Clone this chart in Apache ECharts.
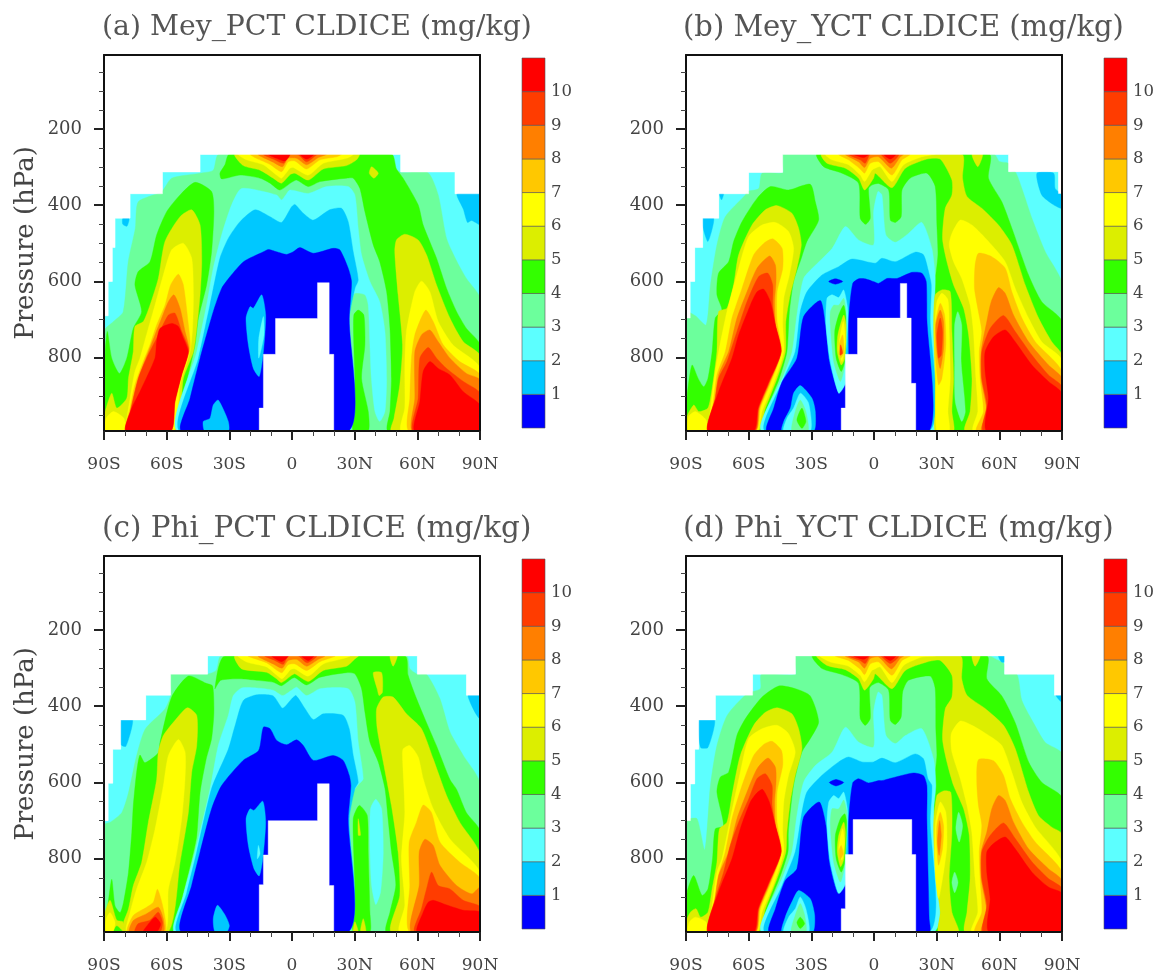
<!DOCTYPE html>
<html><head><meta charset="utf-8">
<style>html,body{margin:0;padding:0;background:#fff}#c{width:1162px;height:975px}#c canvas{filter:blur(0.5px)}</style>
<script src="https://cdn.jsdelivr.net/npm/echarts@6/dist/echarts.min.js"></script>
</head><body><div id="c"></div>
<script>
// tick labels and titles
const titles = ['(a) Mey_PCT CLDICE (mg/kg)','(b) Mey_YCT CLDICE (mg/kg)','(c) Phi_PCT CLDICE (mg/kg)','(d) Phi_YCT CLDICE (mg/kg)'];
const titleSizes = [28.3,29,29.4,29.4];
const majorP = [200,400,600,800];
const minorP = [50,100,150,250,300,350,450,500,550,650,700,750,850,900,950];
const barLabels = [1,2,3,4,5,6,7,8,9,10];
const bandColors = ['#0000ff','#00c8ff','#5cffff','#6cff9c','#33ff00','#dcee00','#ffff00','#ffc800','#ff7f00','#ff3c00','#ff0000','#ffffff'];
// Contour regions: [band, [lat,hPa, lat,hPa, ...]]. Band 11 is the no-data (below ground) area.
const stairsA = [-90,992,-90,690,-88,690,-88,600,-86,600,-86,511,-84.7,511,-84.7,434,-77.5,434,-77.5,370,-62,370,-62,313,-44,313,-44,267,52,267,52,313,78,313,78,370,90,370,90,992];
const panelA = [
[1,[79,370,90,370,90,450,86,440,84,445,82,410]],
[1,[-81,434,-78,434,-79,455,-81,450]],
[3,[-90,992,-90,730,-85.5,705,-80.8,679,-78.4,548,-75,460,-73.6,391,-62.4,364,-57.6,329,-44,316,-37.7,308,-35,266,47.6,266,49.5,303,52.4,314,65,314,70,373,74,487,79,548,83.5,592,90,644,90,992]],
[4,[-46.4,340,-38.5,364,-37.4,417,-38.5,522,-40.9,609,-44.8,696,-46.4,766,-50.1,854,-53.6,924,-55.2,992,-90,992,-89.4,784,-88.4,731,-86.3,801,-82.6,841,-79.1,801,-76,723,-72,679,-75.2,609,-73.6,574,-68,548,-64.8,478,-60,417,-53.6,373]],
[4,[-30,266,-32.1,294,-34.5,316,-33.7,331,-24.9,321,-15.3,329,-10.5,342,-5.8,360,-0.2,340,2.2,334,7.8,351,13.4,338,26.1,329,29.3,329,32.5,356,34.9,417,38.9,504,42,548,45.3,627,46.9,723,47.6,854,46.9,941,46,992,90,992,90,766,83.5,723,78.8,679,74,618,69.2,539,62.8,452,60.4,399,53.2,329,50,305,47.6,266]],
[5,[-27.3,266,-23.3,296,-15.3,308,-9,329,-5,342,-0.7,319,1.4,316,7.8,334,15,305,26.1,296,30.9,281,32.2,266]],
[6,[-25.7,266,-21.7,281,-13.7,294,-7.4,321,-5,329,-1,303,0.6,301,7.8,321,15,290,26.1,277,29.3,266]],
[7,[-20,266,-17,277,-10.5,293,-5,312,-1.8,286,1.4,284,7,305,13.4,281,21.3,273,23.7,266]],
[8,[-16.2,266,-9,287,-4.5,299,-1.8,277,2.2,277,7,294,12.6,275,16.5,266]],
[9,[-13.7,266,-9,279,-4,290,-1.8,268,3,268,7,286,11.8,268,14,266]],
[10,[-11.4,266,-7.4,277,-3.4,284,-1,266]],
[10,[3.8,266,7,279,10.5,266]],
[5,[38.1,299,41.3,316,39.2,329,37,316]],
[5,[-48,412,-44,452,-43.2,548,-44,635,-45.6,723,-47.2,784,-52,854,-56,992,-90,992,-90,954,-86.3,893,-83.9,932,-79.1,906,-78.3,854,-76,784,-75.2,718,-71.2,705,-68,662,-64,592,-60.8,495,-53.6,430]],
[6,[-52,500,-48,539,-47.2,635,-47.6,723,-48.8,784,-53.6,871,-56.8,992,-79.9,992,-79.1,959,-77.5,906,-75.2,836,-72.8,801,-68.8,723,-65.6,662,-61.6,583,-57.6,517]],
[6,[-89,959,-85.5,941,-80.4,959,-80.4,992,-89.5,992]],
[7,[-54.4,581,-52,609,-49.6,714,-48.8,775,-53.6,854,-56.5,924,-58.1,992,-79.5,992,-77.5,932,-75.2,871,-71.2,810,-68,766,-64.8,714,-60.8,662,-58.1,609]],
[8,[-56.5,635,-53.6,670,-51.2,731,-49.4,777,-53.6,850,-56.5,920,-58.1,992,-79.5,992,-77.5,941,-74.4,871,-71.2,819,-65.6,740,-62.4,696,-59.2,653]],
[9,[-56,683,-52.8,731,-49.4,780,-53,847,-56.2,917,-58.1,992,-79.5,992,-77.5,945,-73.6,854,-69.6,801,-64.8,749,-59.2,688]],
[10,[-57.6,710,-54.4,718,-52,749,-49.7,784,-52.8,845,-56,915,-58.1,992,-79.5,992,-76.7,932,-72.8,889,-65.6,801,-64.8,758,-63.2,723]],
[5,[54,476,60.4,491,64.4,530,69.2,609,75.6,696,82,758,90,794,90,992,47.6,992,48.8,959,51.6,871,52.9,766,50.8,635,49.2,522,50,491]],
[6,[62,599,66,627,70,705,77,766,90,826,90,992,52.4,992,54,932,54,819,54.8,731,58.8,627]],
[7,[64,675,67.6,705,72.4,766,80.3,810,90,845,90,992,56,992,56.4,906,57.2,801,58.8,740]],
[8,[66,727,70,758,75.6,801,83.5,841,90,858,90,992,57.7,992,58.8,906,58.8,784,62,740]],
[9,[65.2,773,69.2,801,74,828,82,862,90,893,90,992,58,992,60.4,906,61.2,801]],
[10,[66,810,70,828,75.6,845,82,889,90,924,90,992,58.8,992,61.2,915,62.8,836]],
[2,[-54.8,992,-45.6,784,-40.9,662,-37.7,565,-33.7,478,-28.9,399,-24.1,356,-7.4,373,-5,386,-3,373,-1,360,7.8,369,16.5,351,26.9,351,30.1,373,31.7,460,33.3,530,37.3,600,42,653,44.5,731,45.3,854,44.5,941,42,967,39.7,941,38,854,37.3,766,36.5,662,34.9,635,30.1,631,28.5,653,27.4,696,27.4,992]],
[4,[31.7,675,34.4,688,34.9,766,33.3,854,36.5,941,36.5,992,29.3,992,29.3,932,30.1,854,29.6,766,29.6,688]],
[1,[-53.6,992,-44.8,801,-39.3,662,-34.5,539,-30.5,487,-24.9,443,-17.7,412,-10.5,430,-5,445,-0.2,404,1.4,398,5.4,421,10.2,439,18,412,23.7,408,26.9,443,29.3,522,31.7,596,30.1,618,27.4,696,27,992]],
[0,[-52.8,992,-48.8,906,-44,801,-37.7,679,-33.7,618,-29.6,587,-23.2,548,-13.7,522,-11.3,516,-7.4,522,-2.6,529,0.6,522,3.8,511,10.2,526,19.7,513,22.9,517,26.9,565,28.5,600,27.4,696,27,992]],
[1,[-14.5,635,-12.6,688,-13.7,784,-15.7,849,-18.5,828,-20.9,766,-22,696,-20.1,666,-18.5,670]],
[2,[-13.7,692,-13.4,740,-15.9,801,-15.9,750]],
[1,[-35.3,911,-30.5,967,-30.5,992,-41.7,992,-42.5,967,-39.3,959,-37.7,924]],
[11,[-15.7,992,-15.7,932,-13.7,932,-13.7,791,-7.9,791,-7.9,697,12.2,697,12.2,603,17.8,603,17.8,791,20,791,20,992]]
];
const stairsB = [-90,992,-90,696,-88,696,-88,600,-85.8,600,-85.8,511,-82,511,-82,434,-74.3,434,-74.3,370,-60,370,-60,314,-43.7,314,-43.7,267,64.4,267,64.4,312,88.3,312,88.3,369,90,369,90,992];
const panelB = [
[1,[78,316,86,316,86.7,356,90,373,90,408,86,399,80.3,373]],
[1,[-82,434,-76.7,434,-79.5,495,-82,456]],
[1,[-74,370,-72,370,-73,386]],
[3,[-90,992,-90,680,-85.5,690,-80.4,714,-78.3,609,-75.2,504,-71.2,430,-61.6,373,-60.8,364,-55.2,356,-53.6,316,-43.7,314,-43.7,266,57.5,266,60,285,64.4,290,64.4,312,67.6,312,70.8,356,75.6,434,82,522,90,605,90,992]],
[4,[-49.6,351,-40.9,360,-30.5,345,-28.1,391,-26.5,439,-32.1,495,-34.8,539,-38.5,600,-40.5,679,-41.7,784,-45.3,854,-51.2,932,-54.9,992,-90,992,-89.4,898,-87.1,819,-84.2,854,-81.5,876,-79.5,854,-77.5,784,-76,696,-72.8,675,-75.2,635,-74.4,578,-69.6,548,-67.2,495,-63.2,443,-56,382]],
[4,[-27.3,266,-24.1,299,-15.3,316,-7.4,342,-6.6,434,-4,450,-1.8,434,-2.6,356,-1,347,2.2,343,7,360,7.8,439,10.2,445,13,430,13.4,360,17.3,329,25.3,316,29.3,351,30.1,452,30.6,530,29.3,592,27.4,627,29,679,29.3,941,29.3,992,90,992,90,705,80.3,653,74,583,66,460,61.2,391,54.8,329,55.1,266]],
[3,[40.1,679,42,714,41.7,810,43.7,941,42,967,38.9,915,38.6,810,38.6,714]],
[5,[-25.2,266,-22.5,290,-13.7,303,-7.4,329,-4.5,360,-0.2,329,0.6,316,8.6,354,15,303,25.3,279,31.7,279,37.3,334,37.3,373,34.1,408,32.8,487,34.9,548,38.1,609,42.9,670,45.3,740,46.9,854,46,941,43.7,992,90,992,90,793,85.1,758,78.8,696,72.4,609,66,504,59.6,452,51.6,408,44.5,377,42.4,329,42,266]],
[5,[46.9,266,52,266,49.7,299]],
[6,[-23.3,266,-20.1,281,-12.2,294,-6.6,321,-4.5,338,-1,308,0.6,303,3,299,8.6,338,14.2,294,22.9,273,29.3,266]],
[7,[-17,266,-12.2,281,-6.6,305,-4.5,316,-1.8,290,2.2,286,8.6,321,13.4,281,17.3,266]],
[8,[-13.7,266,-7.4,286,-4.5,301,-1.8,277,2.2,273,8.3,303,12.6,273,14.2,266]],
[9,[-12.2,266,-6.6,281,-4.2,290,-1.8,266,3,266,7.8,290,11.8,266]],
[10,[-9.8,266,-5,275,-2.6,266]],
[10,[4.6,266,7.8,279,10.5,266]],
[5,[-46.4,401,-39.3,421,-36.1,460,-34.8,504,-36.9,565,-40.1,635,-42.2,705,-42.4,784,-46.4,854,-52,932,-55.5,992,-90,992,-90,960,-86.3,924,-83.9,941,-79.5,932,-77.5,880,-75.2,784,-74.4,679,-70.4,670,-67.2,609,-64.8,530,-58.4,452,-52,412]],
[6,[-47.2,445,-40.9,469,-38.5,513,-40.5,583,-43.2,644,-43.7,714,-43.2,784,-48,867,-53.6,941,-56,992,-79.1,992,-78.8,959,-76,836,-74.4,784,-70.4,679,-64.8,565,-60,482,-53.6,452]],
[6,[-88.7,954,-85.5,941,-80.4,963,-80,992,-88.7,992]],
[7,[-48.5,488,-44,513,-43.7,565,-46.4,627,-46.4,705,-44.3,784,-49.6,867,-54.4,932,-56.5,992,-79.1,992,-77.5,941,-75.2,845,-71.2,784,-68,696,-63.2,618,-57.6,530,-52.8,500]],
[8,[-50,533,-47.2,557,-46.9,600,-47.6,653,-47.2,714,-44.5,784,-50.1,867,-54.9,932,-56.8,992,-79.5,992,-76.7,932,-74.4,845,-69.6,784,-65.6,696,-60.8,627,-56,565]],
[9,[-50.8,578,-48.5,609,-48.5,662,-47.2,714,-44.5,784,-50.4,867,-55.2,932,-57.1,992,-79.5,992,-76,906,-74.4,854,-70.4,810,-65.6,731,-60.8,653,-55.2,587]],
[10,[-52.8,620,-49.6,653,-47.2,714,-44.5,784,-50.7,867,-55.5,932,-57.6,992,-79.5,992,-74.4,889,-68,801,-64.8,740,-59.2,662,-56,627]],
[6,[41.3,439,46.9,452,54.8,495,62.8,548,67.6,618,74,696,80.3,758,90,806,90,992,47.6,992,49.7,941,48.8,854,47.6,731,46,662,42,592,38.1,548,36,504,37.3,474]],
[7,[50,526,56.4,535,62.8,565,66,627,70.8,696,77.2,758,90,836,90,992,49.2,992,52.4,941,50.8,854,50.4,784,51.6,731,50,679,48.1,618,48.4,557]],
[8,[59.6,616,62.8,631,66.8,688,74,758,83.5,819,90,854,90,992,51.6,992,54,941,51.3,854,51.3,784,54,705,56.1,653]],
[9,[62,689,67.6,731,75.6,793,83.5,845,90,876,90,992,52.4,992,54,924,51.6,854,51.6,784,55.6,723]],
[10,[62.8,727,67.6,758,75.6,819,83.5,862,90,893,90,992,54,992,54.8,906,53.2,836,53.2,784,57.2,745]],
[2,[-53.6,992,-43.2,845,-39.2,784,-36.9,688,-33.7,592,-28,557,-20,513,-13.7,456,-7.4,491,-0.2,504,-0.2,417,1.9,364,3.8,373,5.7,478,10.2,497,16.5,474,22.9,445,27.7,513,29.3,592,28.8,679,28.8,992]],
[1,[-52,992,-43.2,854,-37.7,784,-35.3,679,-32.1,627,-24.9,583,-16.9,561,-10.5,541,0.6,552,3.8,539,10.2,548,19.7,523,23.7,530,26.1,574,27.4,609,26.9,696,26.4,992]],
[0,[-51.2,992,-48,932,-44,863,-36.9,801,-33.7,692,-25.7,650,-23.3,714,-21.4,810,-16.9,893,-13.7,871,-13.7,992]],
[0,[-12.1,791,-12.1,696,-10.2,605,-7.4,593,-4.2,593,0.6,602,2.2,605,6.2,592,11,592,18.1,576,22.9,578,25,600,25.3,696,26.4,992,-12.1,992]],
[0,[-21.7,600,-18.5,593,-15,600,-18.5,607]],
[1,[-35.3,873,-29.7,906,-28.1,941,-28.9,992,-44,992,-43.2,967,-40,932,-38.5,893]],
[2,[-35.3,893,-31.3,919,-30.5,992,-43.2,992,-41.7,959,-38.5,932]],
[3,[-35.3,911,-32.6,941,-31.6,992,-39.3,992,-37.7,941]],
[4,[-34.5,932,-32.6,967,-34.5,985,-36.9,963]],
[2,[-14.5,622,-12.5,679,-13.7,810,-14,871,-16.9,893,-20.9,810,-23,714,-22.5,644,-20.1,635,-16.9,642]],
[3,[-14.5,644,-13.4,679,-14,819,-16.1,862,-19.3,810,-20.9,714,-20.9,679,-19.3,662,-16.9,662]],
[4,[-14.5,662,-13.4,696,-14,810,-15.7,836,-18.1,801,-18.8,731,-16.9,688]],
[5,[-14.5,688,-13.4,714,-14,801,-15.7,819,-17.6,784,-17.3,740]],
[6,[-14.7,705,-13.7,758,-15.3,810,-16.9,775]],
[7,[-15,740,-14.4,784,-16,801,-16.6,766]],
[9,[-16,766,-15,788,-16.3,793]],
[5,[32.5,622,36.5,627,37.3,731,38.1,854,37.3,941,38.1,992,29.3,992,29.3,941,29.3,854,28.5,714,29.3,635]],
[6,[32.5,631,35.4,648,36,731,36.5,854,35.4,941,36,992,30.1,992,29.6,854,29,731,30.1,653]],
[7,[31.7,657,33.8,688,34.4,766,32.5,854,30.9,871,29.6,810,29.3,714]],
[8,[31.7,675,33.3,705,33.3,775,31.7,828,30.3,793,29.6,714]],
[9,[31.7,696,32.8,731,32.2,793,30.9,801,30.1,740]],
[11,[-15.7,992,-15.7,932,-13.7,932,-13.7,791,-7.9,791,-7.9,696,12.6,696,12.6,605,15.7,605,15.7,696,17.8,696,17.8,867,20,867,20,992]]
];
const stairsC = [-90,992,-90,700,-88,700,-88,602,-85.8,602,-85.8,513,-82,513,-82,436,-70,436,-70,371,-58.1,371,-58.1,316,-40.4,316,-40.4,268,60,268,60,316,83.5,316,83.5,371,90,371,90,992];
const panelC = [
[1,[-82,436,-76.3,436,-79.5,505,-82,500]],
[1,[84.3,371,90,371,90,433,87.5,415]],
[3,[-90,992,-90,710,-87,704,-81.5,679,-78.3,627,-74.4,530,-70.3,460,-60.8,407,-58.1,371,-58.1,316,-41,316,-36.3,306,-33.9,268,54.8,268,56.4,301,60,316,64.4,316,70.8,380,75.6,467,82,529,90,602,90,992]],
[4,[-49.6,321,-41,340,-38,347,-37.4,417,-38.5,485,-41.1,539,-44,626,-45.6,740,-47.2,784,-52.8,906,-57.6,992,-90,992,-89.4,967,-88.4,932,-86.3,854,-84.7,924,-82.3,941,-80.7,915,-78.3,836,-76.7,731,-76,662,-74.4,574,-72.8,528,-70.4,548,-64,522,-63.2,495,-57.6,376]],
[4,[-32.1,268,-36.9,354,-34.1,332,-24.9,328,-16.9,332,-8.9,337,-5,346,-0.2,328,1.4,325,7,344,13.4,324,26.1,312,30.1,315,33.3,354,34.9,415,37.3,494,41.3,546,44.5,616,46,695,47.6,781,49.7,869,46.9,940,45.3,992,90,992,90,727,83.5,679,78.8,618,75.6,592,69.2,504,64.4,443,59.6,380,55.6,319,54,268]],
[5,[-27.3,268,-24.1,302,-12.2,311,-7.4,328,-5,338,-0.2,319,1.4,315,7.8,335,15,306,26.1,295,30.1,276,31.7,268]],
[6,[-25.7,268,-21.7,284,-12.2,297,-7.4,318,-4.7,328,-0.7,304,1.4,302,7.8,321,15,289,24.5,275,27.7,268]],
[7,[-20.9,268,-12.2,286,-5,312,-1.8,291,1.4,289,7,306,13.4,283,20.5,268]],
[8,[-16.2,268,-9,289,-4.7,300,-1.8,280,2.2,277,7,295,12.6,277,15.7,268]],
[9,[-13,268,-8.2,280,-4.2,290,-1.8,268,3,268,7.3,286,11.8,268]],
[10,[-9.7,268,-5,283,-1.8,268]],
[10,[4.6,268,7.8,280,10.5,268]],
[5,[38.9,312,42.9,312,43.3,363,41.7,372,40.8,355]],
[5,[46.9,268,50.4,268,48.4,295]],
[5,[-50.1,404,-45.6,424,-45.6,503,-48,573,-49.6,678,-53.6,810,-59.2,992,-81.5,992,-80.7,967,-78.3,932,-76,871,-72,810,-68.8,705,-64.8,592,-64,520,-61.6,477,-56,437]],
[5,[-90,992,-90,950,-87.1,909,-83.9,961,-81,965,-81,992]],
[4,[-85.5,992,-83.9,976,-81,992]],
[6,[-89,959,-87.1,941,-84.7,967,-85.8,992,-89,992]],
[6,[-54.4,487,-51.2,520,-51.2,590,-52.8,695,-56,810,-59.2,880,-60.8,992,-79.1,992,-77.5,941,-74.4,880,-69.6,810,-65.6,723,-61.6,609,-59.2,530]],
[7,[-64.4,880,-61.6,931,-60.8,992,-78.8,992,-76,949,-69.6,927,-66.4,914]],
[8,[-64,927,-61.6,958,-61.6,992,-77.8,992,-76,962,-69.6,944]],
[9,[-64,940,-62,966,-63.2,992,-75.2,992,-73.6,970,-68,961]],
[10,[-65.6,953,-62.9,971,-64.8,992,-71.2,992,-69.6,977]],
[5,[43.7,376,48.4,376,54.8,420,62,459,67.6,538,74,634,80.3,704,90,787,90,992,47.6,992,51.6,896,50.8,782,47.6,660,43.7,546,40.8,459,40.5,407]],
[6,[56.4,503,60.4,533,62.8,590,67.6,669,75.6,748,90,835,90,992,51.6,992,54,922,52.4,800,54,678,52.9,531,53.2,512]],
[7,[62.8,659,66.8,679,70.8,756,80.3,809,90,852,90,992,56.4,992,56.4,869,56.1,757,59.6,704]],
[8,[63.6,749,67.6,765,70.8,817,78.8,870,86,892,90,875,90,992,57.2,992,60.9,869,60.9,782]],
[9,[66.8,835,70,870,75.6,879,82,909,90,926,90,992,58.8,992,62,931,64.4,879]],
[10,[67.6,909,72.4,918,82,935,90,940,90,992,60,992,62.8,940,65.2,914]],
[2,[-56,992,-52,896,-46.4,782,-39.2,616,-35.3,503,-30.5,424,-28.1,372,-24.1,352,-16.9,352,-9,358,-4.5,372,-0.2,358,2.2,350,7,372,13.4,354,26.9,354,30.1,389,31.7,494,34.1,590,31.7,606,29.3,625,27.4,695,26.9,992]],
[2,[40.1,644,42.9,669,43.7,782,42.4,887,40.1,920,38.1,870,37.3,765,37.6,669]],
[4,[32.2,660,36,686,36.5,782,37.3,940,37.3,992,29.3,992,30.1,870,29.3,695]],
[5,[31.7,695,32.8,738,31.7,738]],
[5,[34.1,957,35.4,992,32.8,992]],
[5,[30.1,965,31.7,992,29.3,992]],
[1,[-54.8,992,-50.4,889,-45.6,782,-38.5,616,-30.5,513,-27.3,452,-23.3,385,-16.9,370,-9,373,-4.5,405,-0.2,381,1.9,372,6.2,406,10.2,435,15,420,24.5,424,27.4,459,29.3,529,31.7,599,30.1,616,27.4,695,26.9,992]],
[0,[-52.8,992,-48,869,-44,782,-38.5,669,-33.7,608,-23.4,542,-16,516,-13.7,455,-10.5,459,-7.3,490,-2.6,501,2.2,488,5.4,503,10.2,542,19.7,529,24.5,542,27.4,581,28.2,608,26.9,695,26.9,992]],
[1,[-14,649,-12.6,704,-14,800,-15.7,845,-18.2,826,-20.9,765,-22,695,-20.1,669,-18.2,673]],
[2,[-16.1,765,-15.3,787,-16.6,800]],
[1,[-35.7,922,-32,948,-30,975,-31.3,992,-36.8,992,-37.7,957]],
[11,[-15.7,992,-15.7,868,-13.7,868,-13.7,790,-11.4,790,-11.4,700,12.2,700,12.2,603,17.8,603,17.8,870,20,870,20,992]]
];
const stairsD = [-90,992,-90,700,-87.9,700,-87.9,604,-85.8,604,-85.8,513,-83.9,513,-83.9,436,-75.9,436,-75.9,371,-58.1,371,-58.1,316,-37.6,316,-37.6,268,62.5,268,62.5,316,86.4,316,86.4,371,90,371,90,992];
const panelD = [
[1,[-83.9,436,-76.3,436,-79.5,508,-83,508]],
[1,[-89.5,700,-88.4,700,-89,782]],
[1,[87,371,90,371,90,390]],
[3,[-90,992,-90,700,-88.4,695,-84.7,695,-81,776,-78.3,607,-75.2,503,-70.3,424,-60.8,367,-54.4,354,-53.9,316,-37.6,316,-37.6,268,55,268,59.6,280,62.5,290,62.5,316,68.4,316,70.8,385,77.2,452,82,495,90,525,90,992]],
[1,[59.6,268,62.5,268,62.5,284,61,284]],
[4,[-45.6,347,-37.6,354,-30.5,373,-26.5,441,-30.5,485,-34.5,520,-38.5,607,-41,730,-41.2,782,-45.3,852,-51.2,930,-54.9,992,-90,992,-89.4,887,-86.3,844,-82.3,896,-79.5,879,-77.3,800,-76,722,-72,714,-75.2,625,-73.6,586,-69.6,573,-65.6,476,-61.6,433,-53.6,376]],
[4,[-29.4,268,-24.9,301,-15.3,317,-7.4,340,-6.6,432,-4.2,450,-1.8,432,-2.2,354,-1,345,2.2,338,7,358,7.8,437,10.2,448,13,428,13.7,363,16.5,332,26.9,321,29.3,354,29.6,459,30.1,529,29,590,28.5,625,29,695,29.3,922,29.3,992,90,992,90,640,80.4,600,74.2,548,67.6,443,61.2,373,54,328,54,268]],
[5,[-27.3,268,-22.5,293,-13.7,304,-7.4,328,-4.5,358,-0.2,328,0.6,315,8.6,354,15,306,25.3,284,31.7,280,37.3,319,37.3,376,34.1,407,32.8,485,34.9,546,38.1,608,42.9,669,45.6,739,46,852,44.5,940,43.7,992,90,992,90,735,85.1,717,78.8,687,74,625,67.6,511,62,450,53.2,406,44.5,371,42,328,41.3,268]],
[5,[46.9,268,50.8,268,48.4,295]],
[6,[-25.7,268,-20.9,284,-12.2,295,-6.6,319,-4.5,336,-1,306,0.6,302,3,297,8.6,338,14.2,293,22.9,271,29.3,268]],
[7,[-18.5,268,-12.2,280,-6.6,303,-4.5,317,-1.8,289,2.2,284,8.6,319,13.4,280,17.3,268]],
[8,[-13.7,268,-7.4,284,-4.5,300,-1.8,275,2.2,271,8.3,302,12.6,274,14.2,268]],
[9,[-12.2,268,-6.6,280,-4.2,288,-1.8,268,3,268,7.8,288,11.8,268]],
[10,[-9.8,268,-5,277,-2.6,268]],
[10,[4.6,268,7.8,280,10.5,268]],
[5,[-46.4,404,-39.3,420,-36.1,459,-34.5,512,-37.7,581,-40.1,651,-41.7,730,-42.2,782,-46.4,852,-52,931,-55.5,992,-90,992,-90,965,-87.9,940,-85.2,931,-83,953,-79.5,940,-77.5,879,-75.2,809,-74,722,-70.4,704,-68,634,-64,529,-57.6,450,-52,416]],
[6,[-46.4,450,-40.9,472,-37.7,520,-40.9,581,-43.2,651,-43.7,730,-43.2,782,-48,866,-53.6,940,-56,992,-79.1,992,-78.3,957,-75.2,835,-72.8,800,-68.8,695,-64,573,-60,485,-53.6,459]],
[6,[-88.4,966,-85.5,953,-80.4,966,-80,992,-89,992]],
[7,[-48.8,492,-44.3,516,-43.7,555,-46.4,625,-46.4,704,-44.3,782,-49.6,866,-54.4,931,-56.5,992,-79.1,992,-77.3,940,-74.4,844,-71.2,782,-68,695,-63.2,608,-57.6,529,-52.8,500]],
[8,[-50.8,536,-47.2,560,-46.9,599,-47.6,651,-47.2,713,-44.5,782,-50.1,866,-54.9,931,-56.8,992,-79.5,992,-76.7,931,-74.4,844,-69.6,782,-65.6,695,-60.8,625,-56,564]],
[9,[-52,577,-48.8,608,-48.8,660,-47.2,713,-44.5,782,-50.4,866,-55.2,931,-57.1,992,-79.5,992,-76,905,-72,835,-68.8,765,-64.8,704,-60,643,-56,590]],
[10,[-53.3,618,-50.1,651,-47.2,713,-44.5,782,-50.7,866,-55.5,931,-57.6,992,-79.5,992,-74.4,887,-68,800,-64,721,-59.2,651,-56,627]],
[6,[41.3,439,46.9,450,54.8,476,61.2,503,66,573,70.8,652,77.2,717,90,809,90,992,46.9,992,49.7,940,48.4,852,46.8,730,44.5,660,41.3,590,37.3,520,37,472]],
[7,[50,540,57.2,543,62,581,65.2,642,70.8,704,77.2,756,90,835,90,992,48.4,992,51.6,940,50.8,852,50.4,782,51.6,713,50,660,49.2,599]],
[8,[59.6,634,62.8,647,66.8,704,74,774,83.5,826,90,857,90,992,51.6,992,54,940,51.3,852,51.3,782,54,730,56.4,669]],
[9,[62,706,67.6,747,75.6,808,83.5,852,90,878,90,992,52.4,992,54,922,51.6,852,51.6,782,55.6,739]],
[10,[62.8,743,67.6,774,75.6,835,83.5,874,90,891,90,992,55.1,992,55.6,905,54,835,54,782,57.2,760]],
[2,[-53.6,992,-44,852,-39.3,782,-36.9,686,-33.7,599,-28,555,-20,520,-13.7,455,-7.4,494,-0.2,507,-0.2,415,1.9,363,3.8,372,5.7,476,10.2,498,15,477,22.9,459,28.5,538,29.6,608,28.5,678,28.8,992]],
[1,[-52,992,-44,870,-37.7,782,-34.5,678,-32.1,625,-24.9,581,-16.9,546,-12.2,533,-5.8,546,-0.2,546,3.8,536,10.2,548,19.7,525,23.7,538,25.8,590,27.7,608,26.9,695,26.4,992]],
[0,[-50.1,992,-47.2,931,-42.5,857,-36.9,826,-33.7,691,-26.2,651,-23,713,-21.4,809,-17.3,891,-13.7,870,-13.7,992]],
[0,[-12.1,789,-12.1,695,-10.2,601,-7.4,590,-2.6,601,2.2,595,3.8,595,8.6,588,18.9,575,23.7,582,25.3,608,25.3,695,26.4,957,26.4,992,-12.1,992]],
[0,[-21.4,600,-18.2,592,-14.5,600,-18.2,609]],
[1,[-36.1,883,-30.5,905,-28.4,949,-29.4,992,-44,992,-42.5,953,-39.3,913]],
[2,[-35.3,900,-32.6,931,-31.3,992,-43.2,992,-40.9,953,-37.7,931]],
[3,[-35.3,917,-33.2,948,-32.6,992,-39.6,992,-37.7,948]],
[4,[-35.3,953,-33.2,970,-35.3,983,-36.9,967]],
[2,[-14.5,625,-12.6,678,-13.7,809,-14,870,-16.9,891,-20.9,809,-22.5,713,-21.7,652,-19.3,634,-16.9,642]],
[3,[-14.5,646,-12.9,686,-14,817,-16.1,861,-19.3,809,-20.9,713,-20.1,669,-16.9,669]],
[4,[-14,682,-13.1,704,-14,809,-15.7,835,-18.1,800,-18.5,739,-16.1,695]],
[5,[-14.5,704,-13.7,730,-14.4,800,-16,821,-17.6,782,-16.9,739]],
[6,[-15,721,-14.1,756,-15.3,804,-16.9,773]],
[7,[-15.7,765,-14.7,787,-16.1,800,-16.6,778]],
[5,[33.3,622,36.8,626,37.3,730,36,852,37.3,940,40.5,992,30.9,992,31.7,940,29.6,852,28.5,713,30.1,634]],
[6,[31.7,651,34.4,678,34.9,765,33.3,835,30.9,904,29.3,835,29.3,713]],
[7,[31.7,678,33.3,713,32.8,774,30.9,817,30.1,765,30.1,713]],
[8,[31.4,700,32.2,739,31.2,791,30.4,756]],
[3,[40.5,678,42.4,713,40.8,756,39.2,721]],
[3,[38.6,835,40.2,862,38.6,889,37.3,862]],
[11,[-15.7,992,-15.7,931,-13.7,931,-13.7,789,-10,789,-10,697,18.1,697,18.1,789,20,789,20,992]]
];
const panels = [panelA,panelB,panelC,panelD];
const stairs = [stairsA,stairsB,stairsC,stairsD];
const frames = [[104,55],[686,55],[104,556],[686,556]];
const SIZE = 376;
const axisFont = {fontFamily:'DejaVu Serif',fontSize:18,color:'#444'};
const lat = v => v===0 ? '0' : Math.abs(v)+(v<0?'S':'N');
const grid=[],xAxis=[],yAxis=[],series=[],title=[];
const pts=(api,f)=>{const o=[];for(let i=0;i<f.length;i+=2)o.push(api.coord([f[i],f[i+1]]));return o;};
frames.forEach((f,k)=>{
  title.push({text:titles[k],left:f[0]-(k%2?8:7),top:f[1]-46,textStyle:{fontFamily:'DejaVu Serif',fontWeight:'normal',fontSize:titleSizes[k],color:'#555'}});
  const gi=grid.length;
  grid.push({left:f[0],top:f[1],width:SIZE,height:SIZE});
  const xi=xAxis.length, yi=yAxis.length;
  const line={show:true,onZero:false,lineStyle:{color:'#111',width:2}};
  xAxis.push({type:'value',gridIndex:gi,min:-90,max:90,interval:30,position:'bottom',z:5,axisLine:line,splitLine:{show:false},
    axisTick:{show:true,length:9,lineStyle:{color:'#222',width:2}},minorTick:{show:true,splitNumber:3,length:5,lineStyle:{color:'#444',width:1}},
    axisLabel:{...axisFont,fontSize:17,margin:25,formatter:lat,hideOverlap:false,showMinLabel:true,showMaxLabel:true}});
  xAxis.push({type:'value',gridIndex:gi,min:-90,max:90,position:'top',z:5,axisLine:line,axisTick:{show:false},axisLabel:{show:false},splitLine:{show:false}});
  const name=(k%2===0)?{name:'Pressure (hPa)',nameLocation:'middle',nameGap:65,nameTextStyle:{fontFamily:'DejaVu Serif',fontSize:26,color:'#444'}}:{};
  yAxis.push({type:'value',gridIndex:gi,inverse:true,min:6,max:992,position:'left',z:5,axisLine:line,splitLine:{show:false},...name,
    axisTick:{show:true,length:10,customValues:majorP,lineStyle:{color:'#222',width:2}},
    axisLabel:{...axisFont,margin:22,customValues:majorP,padding:[6,0,0,0]}});
  yAxis.push({type:'value',gridIndex:gi,inverse:true,min:6,max:992,position:'left',z:5,axisLine:{show:false,onZero:false},splitLine:{show:false},
    axisTick:{show:true,length:5,customValues:minorP,lineStyle:{color:'#444',width:1}},axisLabel:{show:false}});
  yAxis.push({type:'value',gridIndex:gi,inverse:true,min:6,max:992,position:'right',z:5,axisLine:line,splitLine:{show:false},axisTick:{show:false},axisLabel:{show:false}});
  const S=stairs[k];
  const layers=[[2,S],...panels[k],[11,S.concat([90,0,-90,0])]];
  series.push({type:'custom',xAxisIndex:xi,yAxisIndex:yi,clip:true,silent:true,coordinateSystem:'cartesian2d',
    data:layers.map((l,i)=>[l[1][0],l[1][1],i]),
    renderItem:(p,api)=>{const l=layers[p.dataIndex];const stair=p.dataIndex===0||l[0]===11;
      return {type:'polygon',shape:{points:pts(api,l[1]),smooth:stair?0:0.22},style:{fill:bandColors[l[0]],stroke:bandColors[l[0]],lineWidth:0.4}};}});
  // colour bar
  const bg=grid.length;
  grid.push({left:f[0]+418,top:f[1]+3,width:23,height:370});
  const bx=xAxis.length, by=yAxis.length;
  xAxis.push({type:'value',gridIndex:bg,min:0,max:1,show:false});
  yAxis.push({type:'value',gridIndex:bg,min:0,max:11,interval:1,position:'right',axisLine:{show:false,onZero:false},axisTick:{show:false},splitLine:{show:false},
    axisLabel:{...axisFont,fontSize:16.5,margin:6,color:'#444',customValues:barLabels,align:'left',padding:[8,0,0,0]}});
  series.push({type:'custom',xAxisIndex:bx,yAxisIndex:by,coordinateSystem:'cartesian2d',silent:true,
    data:bandColors.slice(0,11).map((c,i)=>[0,i]),
    renderItem:(p,api)=>{const i=api.value(1);const a=api.coord([0,i]),b=api.coord([1,i+1]);
      return {type:'rect',shape:{x:a[0],y:b[1],width:b[0]-a[0],height:a[1]-b[1]},style:{fill:bandColors[i],stroke:'#555',lineWidth:0.6}};}});
});
const chart=echarts.init(document.getElementById('c'),null,{renderer:'canvas'});
chart.setOption({animation:false,backgroundColor:'#fff',title,grid,xAxis,yAxis,series});
</script></body></html>
